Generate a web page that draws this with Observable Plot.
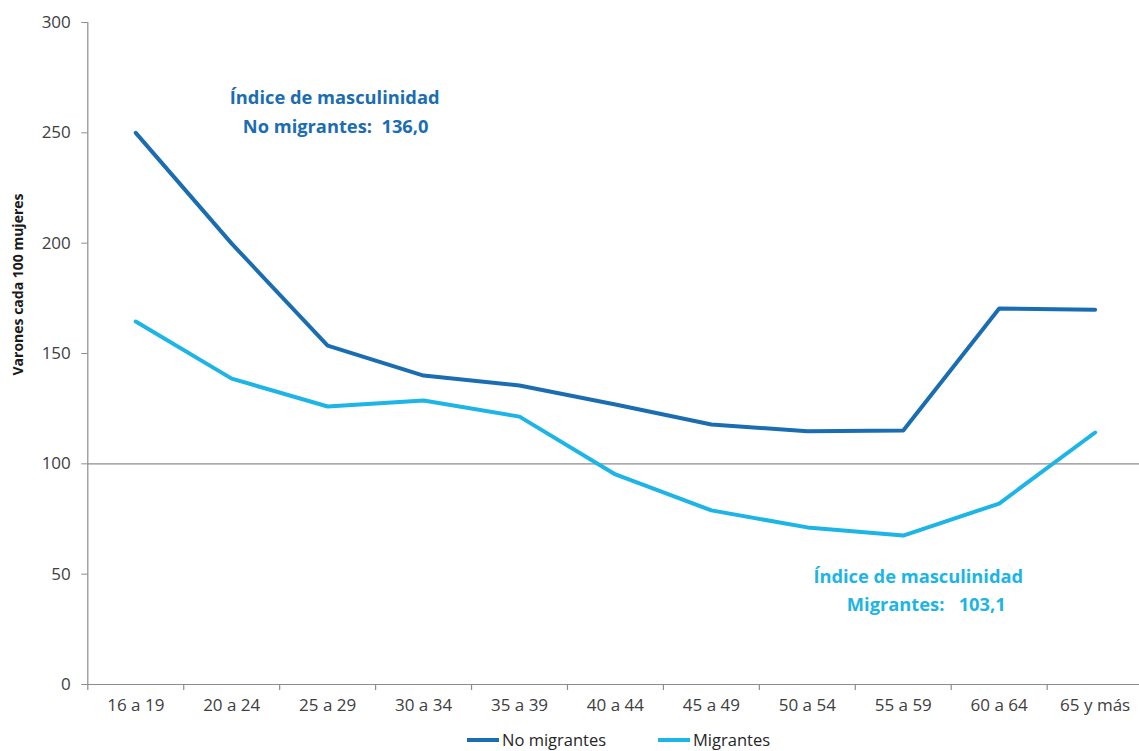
<!DOCTYPE html>
<html><head><meta charset="utf-8">
<script src="https://cdn.jsdelivr.net/npm/d3@7"></script>
<script src="https://cdn.jsdelivr.net/npm/@observablehq/plot@0.6"></script>
<style>
body{margin:0;background:#fff;overflow:hidden;font-family:"Open Sans",sans-serif}
#legend{position:relative;height:23px;font-size:16.5px;color:#262626}
.item{position:absolute;top:0;display:flex;align-items:center;height:23px}
.sw{display:inline-block;width:32px;height:4px;margin-right:3px}
</style></head><body>
<div id="chart"></div>
<div id="legend"></div>
<script>
const ageGroups = ["16 a 19","20 a 24","25 a 29","30 a 34","35 a 39","40 a 44","45 a 49","50 a 54","55 a 59","60 a 64","65 y más"];
const noMigrantes = [250.0, 199.8, 153.6, 140.0, 135.5, 126.9, 117.8, 114.8, 115.1, 170.4, 169.8];
const migrantes = [164.5, 138.6, 126.0, 128.7, 121.4, 95.2, 78.9, 71.2, 67.5, 82.0, 114.2];
const yTicks = [0, 50, 100, 150, 200, 250, 300];
const seriesNames = ["No migrantes", "Migrantes"];
const seriesColors = ["#1b6db2", "#1db4e6"];
const yTitle = "Varones cada 100 mujeres";
const noteNo = ["Índice de masculinidad", "No migrantes:\u00a0\u00a0136,0"];
const noteMig = ["Índice de masculinidad", "Migrantes:\u00a0\u00a0\u00a0103,1"];

const rows = [];
ageGroups.forEach((g, i) => {
  rows.push({group: g, value: noMigrantes[i], series: seriesNames[0]});
  rows.push({group: g, value: migrantes[i], series: seriesNames[1]});
});

const W = 1139, H = 728;
const mL = 87.3, mT = 22, mB = 44, mR = -3.6;
const step = (W - mR - mL) / ageGroups.length;
const axisColor = "#8c8c8c";
const textColor = "#404040";

const chart = Plot.plot({
  width: W, height: H,
  marginLeft: mL, marginRight: mR, marginTop: mT, marginBottom: mB,
  style: {fontFamily: "'Open Sans', sans-serif", background: "#fff", overflow: "visible"},
  x: {type: "band", domain: ageGroups, padding: 0, round: false, axis: null},
  y: {domain: [0, 300], axis: null},
  color: {domain: seriesNames, range: seriesColors},
  marks: [
    Plot.ruleY([100], {stroke: axisColor, strokeWidth: 1.2}),
    Plot.frame({anchor: "left", stroke: axisColor, strokeWidth: 1.2}),
    Plot.frame({anchor: "bottom", stroke: axisColor, strokeWidth: 1.2}),
    Plot.axisY({ticks: yTicks, tickSize: 6, tickPadding: 11, stroke: axisColor, fontSize: 17, fill: textColor, label: null, tickFormat: d => String(d)}),
    Plot.axisX({tickSize: 0, tickPadding: 14, fontSize: 17, fill: textColor, label: null}),
    Plot.ruleX(ageGroups, {x: d => d, dx: -step / 2, y1: 0, y2: 0, insetBottom: -6, stroke: axisColor, strokeWidth: 1.2}),
    Plot.ruleX([ageGroups[ageGroups.length - 1]], {x: d => d, dx: step / 2, y1: 0, y2: 0, insetBottom: -6, stroke: axisColor, strokeWidth: 1.2}),
    Plot.line(rows, {x: "group", y: "value", z: "series", stroke: "series", strokeWidth: 4, strokeLinejoin: "round"}),
    Plot.text([yTitle], {text: d => d, frameAnchor: "left", rotate: -90, dx: -69, dy: 22, fontSize: 14, fontWeight: "bold", fill: "#1a1a1a"}),
    Plot.text([noteNo[0]], {text: d => d, x: () => ageGroups[2], y: () => 265.6, dx: 7, fontSize: 18.3, fontWeight: "bold", fill: seriesColors[0]}),
    Plot.text([noteNo[1]], {text: d => d, x: () => ageGroups[2], y: () => 252.4, dx: 8, fontSize: 18.3, fontWeight: "bold", fill: seriesColors[0]}),
    Plot.text([noteMig[0]], {text: d => d, x: () => ageGroups[8], y: () => 48.5, dx: 15, fontSize: 18.3, fontWeight: "bold", fill: seriesColors[1]}),
    Plot.text([noteMig[1]], {text: d => d, x: () => ageGroups[8], y: () => 35.8, dx: 23, fontSize: 18.3, fontWeight: "bold", fill: seriesColors[1]})
  ]
});
document.getElementById("chart").appendChild(chart);

const legend = document.getElementById("legend");
const legendLefts = [467, 658];
seriesNames.forEach((name, i) => {
  const item = document.createElement("div");
  item.className = "item";
  item.style.left = legendLefts[i] + "px";
  const sw = document.createElement("span");
  sw.className = "sw";
  sw.style.background = seriesColors[i];
  item.appendChild(sw);
  item.appendChild(document.createTextNode(name));
  legend.appendChild(item);
});
</script>
</body></html>
